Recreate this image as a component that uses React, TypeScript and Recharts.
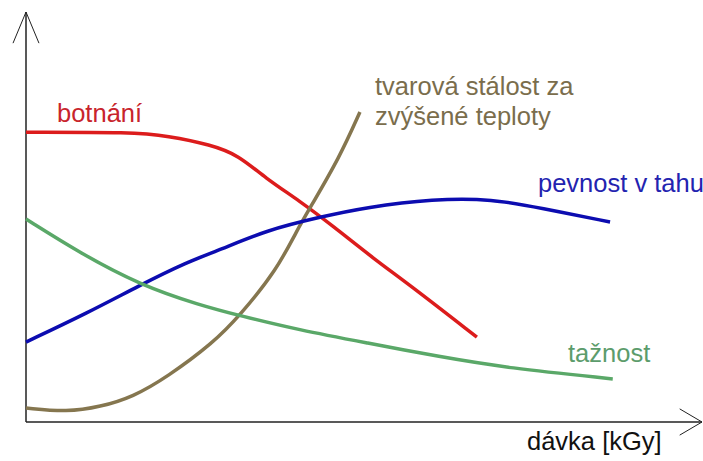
import React from "react";
import { LineChart, Line, XAxis, YAxis, ReferenceLine } from "recharts";

// schematic: dose (x, 0-100) vs. relative property level (y, 0-100)
const botnaniX = [0, 15.8, 20.9, 27.4, 31.4, 35.4, 40.5, 45.4, 51.3, 57.2, 66.7];
const botnaniY = [70.7, 70.7, 69.8, 67.6, 65.1, 59.5, 53.9, 47.8, 40.0, 32.9, 20.7];

const stalostX = [0, 6.1, 11.0, 15.8, 20.9, 27.7, 31.7, 37.1, 40.1, 42.0, 46.4, 49.4];
const stalostY = [3.4, 2.4, 3.7, 6.1, 11.0, 19.3, 26.1, 37.1, 46.8, 52.2, 64.6, 75.6];

const pevnostX = [0, 9.1, 16.9, 23.8, 28.7, 35.6, 43.5, 50.4, 60.2, 69.1, 76.0, 86.4];
const pevnostY = [19.5, 26.6, 33.4, 39.0, 42.0, 46.8, 50.0, 52.4, 54.4, 54.4, 52.2, 48.8];

const taznostX = [0, 8.0, 16.9, 25.7, 31.7, 40.5, 50.4, 61.2, 71.2, 86.8];
const taznostY = [49.5, 41.2, 33.4, 28.5, 25.9, 22.4, 19.3, 15.9, 13.2, 10.5];

const toPoints = (xs: number[], ys: number[]) => xs.map((x, i) => ({ x, y: ys[i] }));

const W = 703;
const H = 461;
const FONT = "'Liberation Sans', Arial, sans-serif";

export default function App() {
  return (
    <div style={{ position: "absolute", left: 0, top: 0, width: W, height: H, background: "#fff" }}>
      <LineChart width={W} height={H} margin={{ top: 12, right: 1, bottom: 39, left: 26 }}>
        <XAxis type="number" dataKey="x" domain={[0, 100]} hide />
        <YAxis type="number" dataKey="y" domain={[0, 100]} hide />

        {/* axes with arrow heads */}
        <ReferenceLine segment={[{ x: 0, y: 0 }, { x: 0, y: 100 }]} stroke="#222" strokeWidth={1.5} ifOverflow="visible" />
        <ReferenceLine segment={[{ x: -1.92, y: 92.4 }, { x: 0, y: 100 }]} stroke="#222" strokeWidth={1} ifOverflow="visible" />
        <ReferenceLine segment={[{ x: 1.92, y: 92.4 }, { x: 0, y: 100 }]} stroke="#222" strokeWidth={1} ifOverflow="visible" />
        <ReferenceLine segment={[{ x: 0, y: 0 }, { x: 100, y: 0 }]} stroke="#222" strokeWidth={1.5} ifOverflow="visible" />
        <ReferenceLine segment={[{ x: 96.7, y: 3.2 }, { x: 100, y: 0 }]} stroke="#222" strokeWidth={1} ifOverflow="visible" />
        <ReferenceLine segment={[{ x: 96.7, y: -3.2 }, { x: 100, y: 0 }]} stroke="#222" strokeWidth={1} ifOverflow="visible" />

        <Line data={toPoints(botnaniX, botnaniY)} dataKey="y" type="basis" stroke="#dc1c1c" strokeWidth={3.5} dot={false} isAnimationActive={false} />
        <Line data={toPoints(stalostX, stalostY)} dataKey="y" type="basis" stroke="#85764f" strokeWidth={3.5} dot={false} isAnimationActive={false} />
        <Line data={toPoints(pevnostX, pevnostY)} dataKey="y" type="basis" stroke="#0c0cb0" strokeWidth={3.5} dot={false} isAnimationActive={false} />
        <Line data={toPoints(taznostX, taznostY)} dataKey="y" type="basis" stroke="#5aa868" strokeWidth={3.5} dot={false} isAnimationActive={false} />
      </LineChart>

      <svg width={W} height={H} style={{ position: "absolute", left: 0, top: 0, pointerEvents: "none" }}>
        <g fontFamily={FONT} fontSize={25.5}>
          <text x={57} y={122} fill="#c8242c">botnání</text>
          <text x={375} y={95} fill="#7a6d4c">tvarová stálost za</text>
          <text x={375} y={125} fill="#7a6d4c">zvýšené teploty</text>
          <text x={538} y={192} fill="#2323b0">pevnost v tahu</text>
          <text x={568} y={362} fill="#5c9c6c">tažnost</text>
          <text x={527} y={450} fill="#111">dávka [kGy]</text>
        </g>
      </svg>
    </div>
  );
}
